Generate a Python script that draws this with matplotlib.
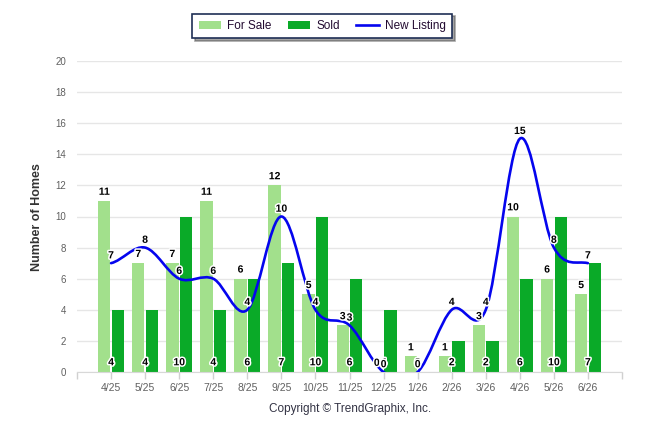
import numpy as np
import matplotlib
matplotlib.use("Agg")
import matplotlib.pyplot as plt
import matplotlib.patheffects as pe
from matplotlib.path import Path
from matplotlib.patches import PathPatch, Patch
from matplotlib.lines import Line2D

plt.rcParams["font.family"] = ["Liberation Sans", "DejaVu Sans"]

# =============================
# data
# =============================
months = ["4/25", "5/25", "6/25", "7/25", "8/25", "9/25", "10/25", "11/25",
          "12/25", "1/26", "2/26", "3/26", "4/26", "5/26", "6/26"]
for_sale = [11, 7, 7, 11, 6, 12, 5, 3, 0, 1, 1, 3, 10, 6, 5]
sold = [4, 4, 10, 4, 6, 7, 10, 6, 4, 0, 2, 2, 6, 10, 7]
new_listing = [7, 8, 6, 6, 4, 10, 4, 3, 0, 0, 4, 4, 15, 8, 7]

c_sale = "#a2e08c"
c_sold = "#0aaa28"
c_line = "#0505ee"


def spline_path(xs, ys):
    # catmull-rom curve through the points, as bezier segments
    n = len(xs)
    pad_y = [ys[0]] + list(ys) + [ys[-1]]
    m = [(pad_y[i + 2] - pad_y[i]) / 2 for i in range(n)]
    verts = [(xs[0], ys[0])]
    codes = [Path.MOVETO]
    for i in range(n - 1):
        dx = xs[i + 1] - xs[i]
        verts += [(xs[i] + dx / 3, ys[i] + m[i] / 3),
                  (xs[i + 1] - dx / 3, ys[i + 1] - m[i + 1] / 3),
                  (xs[i + 1], ys[i + 1])]
        codes += [Path.CURVE4] * 3
    return Path(verts, codes)


fig = plt.figure(figsize=(6.46, 4.34), dpi=100)
ax = fig.add_axes([77 / 646, 62 / 434, 545 / 646, 311 / 434])

x = np.arange(len(months))
w = 0.36
ax.bar(x - 0.2, for_sale, width=w, color=c_sale, zorder=2)
ax.bar(x + 0.2, sold, width=w, color=c_sold, zorder=2)

path = spline_path(list(x.astype(float)), [float(v) for v in new_listing])
ax.add_patch(PathPatch(path, facecolor="none", edgecolor=c_line,
                       lw=1.9, zorder=3, capstyle="round", joinstyle="round"))

halo = [pe.withStroke(linewidth=2.2, foreground="white")]
lab = dict(fontsize=7.5, fontweight="bold", color="black", ha="center",
           zorder=5, path_effects=halo, textcoords="offset points")

for i in range(len(months)):
    ax.annotate(str(for_sale[i]), (x[i] - 0.2, for_sale[i]), xytext=(0, 3),
                va="bottom", **lab)
    ax.annotate(str(sold[i]), (x[i], 0), xytext=(0, 7), va="center", **lab)
    ax.annotate(str(new_listing[i]), (x[i], new_listing[i]), xytext=(0, 2),
                va="bottom", **lab)

ax.set_xlim(-1, 15)
ax.set_ylim(0, 20)
ax.set_yticks(range(0, 21, 2))
ax.set_xticks(range(-1, 16))
ax.set_xticklabels([""] + months + [""])
ax.tick_params(axis="x", colors="#d0d0d0", length=5, width=1,
               labelcolor="#606060", labelsize=7.5, pad=3)
ax.tick_params(axis="y", length=0, labelcolor="#606060", labelsize=7, pad=8)
ax.grid(axis="y", color="#e6e6e6", lw=1, zorder=0)
ax.set_axisbelow(True)
for s in ["left", "right", "top"]:
    ax.spines[s].set_visible(False)
ax.spines["bottom"].set_color("#d8d8d8")

fig.text(37 / 646, 1 - 217 / 434, "Number of Homes", rotation=90, ha="center",
         va="center", fontsize=9, fontweight="bold", color="#333333")
fig.text(350 / 646, 1 - 409 / 434, "Copyright \u00a9 TrendGraphix, Inc.",
         ha="center", va="center", fontsize=8.5, color="#333344")

handles = [Patch(facecolor=c_sale, label="For Sale"),
           Patch(facecolor=c_sold, label="Sold"),
           Line2D([0], [0], color=c_line, lw=1.9, label="New Listing")]
leg = fig.legend(handles=handles, loc="center", bbox_to_anchor=(322 / 646, 1 - 26 / 434),
                 ncol=3, frameon=True, fancybox=False, shadow=True, fontsize=8.5,
                 handlelength=1.9, handleheight=0.6, columnspacing=1.4,
                 handletextpad=0.5, borderpad=0.55)
leg.get_frame().set_edgecolor("#1f2f55")
leg.get_frame().set_linewidth(1.2)
for t in leg.get_texts():
    t.set_color("#220a30")

fig.savefig("out.png", dpi=100)
plt.close()
